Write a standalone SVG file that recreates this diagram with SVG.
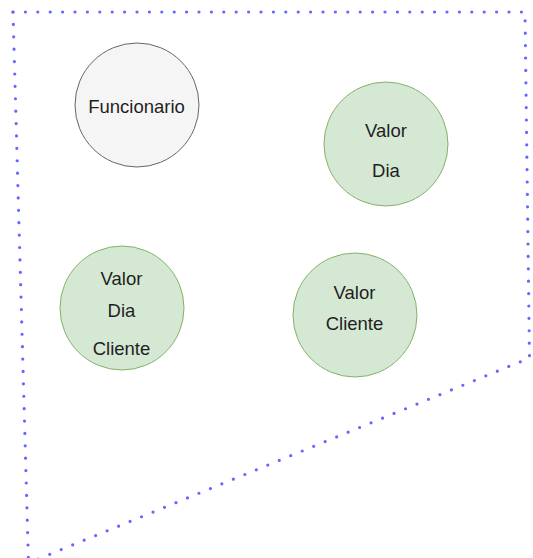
<svg xmlns="http://www.w3.org/2000/svg" width="533" height="558" viewBox="0 0 533 558">
  <style>
    .boundary { fill: none; stroke: #6666ff; stroke-width: 3.2; stroke-linecap: round; stroke-dasharray: 0 12.4; }
    .node-gray { fill: #f5f5f5; stroke: #666666; stroke-width: 1; }
    .node-green { fill: #d5e8d4; stroke: #82b366; stroke-width: 1; }
    .label { font-family: "Liberation Sans", Arial, sans-serif; font-size: 18.5px; fill: #1f1f1f; text-anchor: middle; }
  </style>
  <rect width="533" height="558" fill="#ffffff"/>

  <!-- dotted boundary -->
  <g id="boundary">
    <polyline class="boundary" points="13,12 525,12 529.5,358 28.5,563"/>
    <polyline class="boundary" points="13,12 28.5,563"/>
  </g>

  <g id="connectors"></g>

  <g id="funcionario">
    <circle class="node-gray" cx="137" cy="105" r="62"/>
    <text class="label" x="136.5" y="113">Funcionario</text>
  </g>

  <g id="valor-dia">
    <circle class="node-green" cx="386" cy="144" r="62"/>
    <text class="label" x="386" y="136.5">Valor</text>
    <text class="label" x="386" y="176.5">Dia</text>
  </g>

  <g id="valor-dia-cliente">
    <circle class="node-green" cx="122" cy="308" r="62"/>
    <text class="label" x="121.5" y="284.5">Valor</text>
    <text class="label" x="121.5" y="316.5">Dia</text>
    <text class="label" x="121.5" y="354.5">Cliente</text>
  </g>

  <g id="valor-cliente">
    <circle class="node-green" cx="355" cy="315" r="62"/>
    <text class="label" x="354.5" y="298.5">Valor</text>
    <text class="label" x="354.5" y="329.5">Cliente</text>
  </g>
</svg>
